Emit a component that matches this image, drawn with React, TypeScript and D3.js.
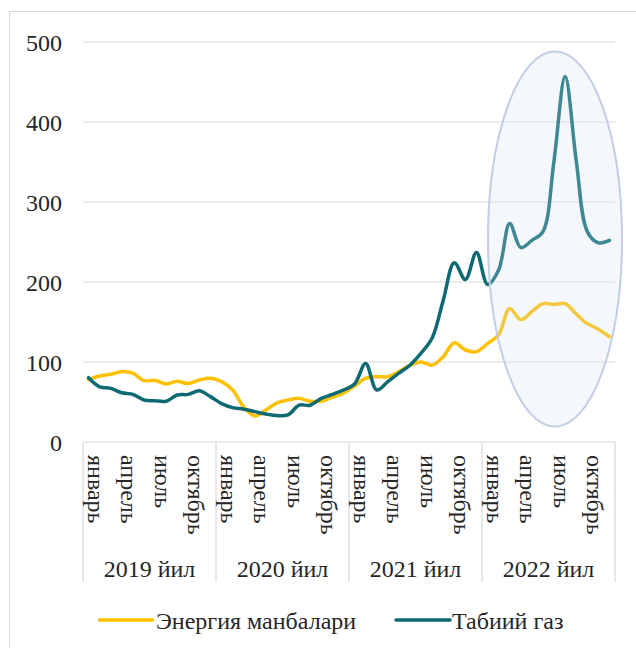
import * as d3 from 'd3'

const years = ['2019 йил', '2020 йил', '2021 йил', '2022 йил']
const monthLabels = ['январь', 'апрель', 'июль', 'октябрь']
const monthIdx = [0, 3, 6, 9]
const yTicks = [0, 100, 200, 300, 400, 500]

// Энергия манбалари, monthly Jan 2019 - Dec 2022
const energy = [
  78, 82.5, 84.6, 88, 86, 76.7, 77, 72.5, 75.8, 73, 77.5, 79.6,
  75.4, 65, 44, 32.5, 40, 49, 52.5, 54.6, 51, 51, 56, 61,
  70, 79.6, 81.7, 81.7, 88, 96, 100, 96, 106.7, 124, 115, 113,
  123, 134, 167, 153, 163, 173, 172, 173, 160, 148, 141, 131.6,
]

// Табиий газ
const gas = [
  80.4, 69, 67, 61.6, 59.6, 52.5, 51.6, 51, 58.7, 59.5, 64, 56.7,
  48, 43, 41, 38, 35, 33, 34, 46, 46, 54.6, 59.5, 65,
  72.5, 98, 65, 75.4, 86, 96, 111, 130, 177, 224, 203, 237,
  197, 215, 273, 243, 252, 263, 352, 457, 352, 263, 249, 252,
]

const series = [
  { name: 'Энергия манбалари', values: energy, color: '#FFC000' },
  { name: 'Табиий газ', values: gas, color: '#0E6A72' },
]

const width = 636,
      height = 648,
      left = 83,
      right = 615,
      top = 42,
      bottom = 442,
      textColor = '#262626',
      gridColor = '#D9D9D9'

const txt = { fontFamily: "'Liberation Serif', 'DejaVu Serif', serif", fontSize: '24px', fill: textColor }

const n = energy.length

// band per month so the year separators land on band edges
const x = d3.scaleBand<number>()
  .domain(d3.range(n))
  .range([left, right])

const y = d3.scaleLinear()
  .domain([0, 500])
  .range([bottom, top])

const line = d3.line<number>()
  .x((d, i) => x(i)! + x.bandwidth() / 2)
  .y(d => y(d))
  .curve(d3.curveCatmullRom.alpha(0.5))

const yearWidth = (right - left) / years.length

export default function App() {
  return (
    <svg width={width} height={height} style={{ position: 'absolute', left: 0, top: 0, background: '#fff' }}>
      <rect x={9.5} y={11.5} width={700} height={700} fill='none' stroke={gridColor} />

      {/* gridlines + y labels */}
      <g>
        {yTicks.map(t =>
          <g key={t}>
            {t > 0 && <line x1={left} x2={right} y1={y(t)} y2={y(t)} stroke={gridColor} strokeWidth={1.2} />}
            <text x={62} y={y(t) + 8.5} textAnchor='end' style={txt}>{t}</text>
          </g>
        )}
      </g>

      {/* category table */}
      <g stroke={gridColor} strokeWidth={1.2}>
        <line x1={left} x2={right} y1={bottom} y2={bottom} />
        {d3.range(years.length + 1).map(k =>
          <line key={k} x1={left + k * yearWidth} x2={left + k * yearWidth} y1={bottom} y2={582} />
        )}
      </g>
      {years.map((yr, k) =>
        <g key={yr}>
          {monthIdx.map((m, j) => {
            const cx = x(k * 12 + m)! + x.bandwidth() / 2
            return (
              <text key={j} transform={`translate(${cx - 0.5}, 455) rotate(90)`} style={txt}>
                {monthLabels[j]}
              </text>
            )
          })}
          <text x={left + (k + 0.5) * yearWidth} y={577} textAnchor='middle' style={txt}>{yr}</text>
        </g>
      )}

      {/* lines */}
      {series.map(s =>
        <path key={s.name} d={line(s.values)!} fill='none' stroke={s.color} strokeWidth={3.5}
          strokeLinecap='round' strokeLinejoin='round' />
      )}

      {/* highlight ellipse drawn over the 2022 part */}
      <ellipse cx={555} cy={239} rx={67} ry={187.5} fill='#D2E0F3' fillOpacity={0.25}
        stroke='#C2CDE6' strokeWidth={2} />

      {/* legend */}
      <g>
        <line x1={99.5} x2={152.5} y1={620} y2={620} stroke={series[0].color} strokeWidth={3.5} strokeLinecap='round' />
        <text x={156} y={629} style={txt}>{series[0].name}</text>
        <line x1={396} x2={450} y1={620} y2={620} stroke={series[1].color} strokeWidth={3.5} strokeLinecap='round' />
        <text x={452} y={629} style={txt}>{series[1].name}</text>
      </g>
    </svg>
  )
}
